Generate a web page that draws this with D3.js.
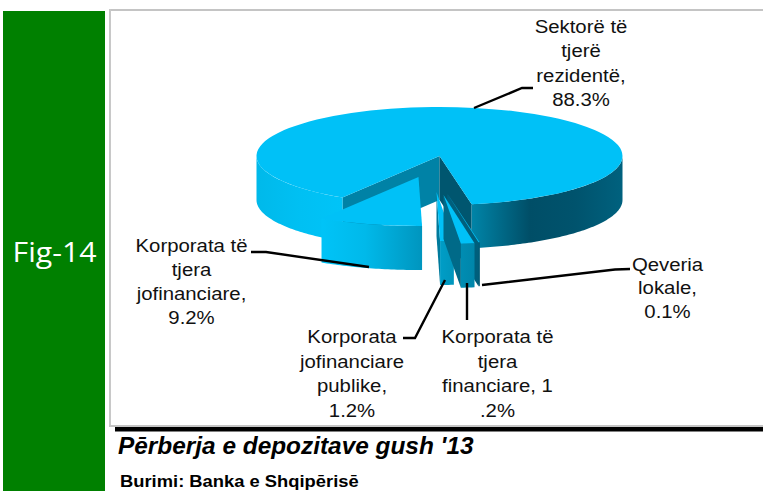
<!DOCTYPE html>
<html><head><meta charset="utf-8">
<style>html,body{margin:0;padding:0;background:#fff;overflow:hidden}svg{display:block}</style>
<script src="https://cdnjs.cloudflare.com/ajax/libs/d3/7.8.5/d3.min.js"></script>
</head><body><svg id="c" width="763" height="491"></svg>
<script>
const categories = ["Sektorë të tjerë rezidentë","Qeveria lokale","Korporata të tjera financiare","Korporata jofinanciare publike","Korporata të tjera jofinanciare"];
const values = [88.3,0.1,1.2,1.2,9.2];
const labelLines = [
  ["Sektorë të","tjerë","rezidentë,","88.3%"],
  ["Qeveria","lokale,","0.1%"],
  ["Korporata të","tjera","financiare, 1",".2%"],
  ["Korporata","jofinanciare","publike,","1.2%"],
  ["Korporata të","tjera","jofinanciare,","9.2%"]
];
const figureLabel = "Fig-14";
const titleText = "Pērberja e depozitave gush '13";
const sourceText = "Burimi: Banka e Shqipērisē";

const svg = d3.select("#c");
const deg = Math.PI/180;
const cx=439.5, cy=156, rx=183, ry=49, depth=44, k=ry/rx;

// layout per slice, in the same order as the data
const explode = [[0,0],[8,38],[4,39],[-3,36],[-21,21]];
const labelPos = [[581,33,24.4],[667.5,270.5,23.5],[497.5,343,24.6],[352,343,24.6],[191.5,252,24]];
const leaders = [
  [[474,108],[522,88],[533,88]],
  [[482,285],[615,269.5],[630,269]],
  [[467,283],[467,320]],
  [[445,280],[415,338],[403,338]],
  [[369,267],[266,252],[251,252]]
];
const topColor="#00c1f7";
const faceColors=[null,"#005f7c","#006a88","#007a9c",null];

const defs=svg.append("defs");
function grad(id,stops){
  const g=defs.append("linearGradient").attr("id",id).attr("gradientUnits","userSpaceOnUse")
    .attr("x1",stops[0][0]).attr("x2",stops[stops.length-1][0]).attr("y1",0).attr("y2",0);
  const a=stops[0][0],b=stops[stops.length-1][0];
  stops.forEach(s=>g.append("stop").attr("offset",(s[0]-a)/(b-a)).attr("stop-color",s[1]));
}
grad("g0",[[257,"#00b9ea"],[300,"#00c0f3"],[345,"#00c4f8"],[468,"#0088ac"],[530,"#004e67"],[575,"#00536d"],[622,"#00617e"]]);
grad("g1",[[473,"#005a76"],[482,"#005a76"]]);
grad("g2",[[460,"#008db3"],[474,"#0086aa"]]);
grad("g3",[[437,"#009fc9"],[452,"#0096bd"]]);
grad("g4",[[320,"#00c4f8"],[365,"#00b9ea"],[421,"#0096bf"]]);

// background panels
svg.append("rect").attr("x",3).attr("y",11).attr("width",102).attr("height",480).attr("fill","#008000");
svg.append("rect").attr("x",109).attr("y",9).attr("width",654).attr("height",2).attr("fill","#c4c4c4");
svg.append("rect").attr("x",109).attr("y",9).attr("width",2).attr("height",417).attr("fill","#c8c8c8");
svg.append("rect").attr("x",109).attr("y",425).attr("width",654).attr("height",2).attr("fill","#c4c4c4");
svg.append("rect").attr("x",115).attr("y",427).attr("width",648).attr("height",4.5).attr("fill","#000");

svg.append("text").text(figureLabel).attr("text-anchor","middle")
  .attr("transform","translate(54.5,262) scale(1.08,1)")
  .attr("fill","#fff").attr("font-family","'Open Sans'").attr("font-size",28);

const arcs=d3.pie().sort(null).startAngle(212*deg).endAngle(572*deg)(values);
const arcGen=d3.arc().innerRadius(0).outerRadius(rx);
const lineGen=d3.line();
const g=svg.append("g");

function rim(a,i,drop){return [cx+explode[i][0]+rx*Math.sin(a), cy+explode[i][1]-ry*Math.cos(a)+(drop||0)];}
function apex(i,drop){return [cx+explode[i][0], cy+explode[i][1]+(drop||0)];}
function face(a,i,fill){
  g.append("path").attr("d",lineGen([apex(i),rim(a,i),rim(a,i,depth),apex(i,depth)])+"Z").attr("fill",fill);
}
function wall(a0,a1,i,fill){
  const n=Math.max(2,Math.ceil((a1-a0)/deg));
  const as=d3.range(n+1).map(j=>a0+(a1-a0)*j/n);
  const pts=as.map(a=>rim(a,i)).concat(as.slice().reverse().map(a=>rim(a,i,depth)));
  g.append("path").attr("d",lineGen(pts)+"Z").attr("fill",fill);
}
function topFace(d,i){
  g.append("path").attr("d",arcGen(d))
   .attr("transform",`translate(${cx+explode[i][0]},${cy+explode[i][1]}) scale(1,${k})`)
   .attr("fill",topColor);
}
function frontWalls(d,i,fill){
  [[Math.PI/2,1.5*Math.PI],[2.5*Math.PI,3.5*Math.PI]].forEach(r=>{
    const a=Math.max(d.startAngle,r[0]),b=Math.min(d.endAngle,r[1]);
    if(b>a) wall(a,b,i,fill);
  });
}
// main slice: inner faces first, then rim and top
face(arcs[0].startAngle,0,"#0082a6");
face(arcs[0].endAngle,0,"#00566f");
frontWalls(arcs[0],0,"url(#g0)");
topFace(arcs[0],0);
// exploded slices, back to front
[1,3,2,4].forEach(i=>{
  const d=arcs[i];
  if(faceColors[i]) face(d.endAngle,i,faceColors[i]);
  if(i===1) face(d.startAngle,i,faceColors[i]);
  frontWalls(d,i,`url(#g${i})`);
  topFace(d,i);
});

// leader lines
const leaderG=svg.append("g").attr("fill","none").attr("stroke","#000").attr("stroke-width",2.4);
leaders.forEach(p=>leaderG.append("path").attr("d",lineGen(p)));

// labels
labelLines.forEach((ls,i)=>{
  const [x,y,dy]=labelPos[i];
  ls.forEach((t,j)=>svg.append("text").text(t)
    .attr("transform",`translate(${x},${y+j*dy}) scale(1.1,1)`)
    .attr("text-anchor","middle").attr("font-family","'Liberation Sans'").attr("font-size",18.5).attr("fill","#111"));
});

svg.append("text").text(titleText).attr("x",118).attr("y",454)
  .attr("font-family","'Liberation Sans'").attr("font-weight","bold").attr("font-style","italic")
  .attr("font-size",24.4).attr("fill","#000");
svg.append("text").text(sourceText).attr("transform","translate(120,487) scale(1.08,1)")
  .attr("font-family","'Liberation Sans'").attr("font-weight","bold").attr("font-size",17).attr("fill","#000");
</script></body></html>
